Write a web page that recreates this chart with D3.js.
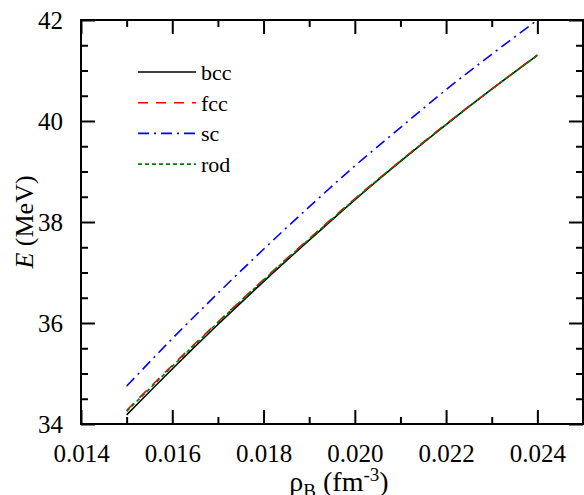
<!DOCTYPE html>
<html>
<head>
<meta charset="utf-8">
<script src="https://cdn.jsdelivr.net/npm/d3@7"></script>
<style>
  html, body { margin: 0; padding: 0; background: #fff; }
  svg { display: block; }
  text { font-family: "Liberation Serif", "Times New Roman", serif; fill: #000; }
</style>
</head>
<body>
<svg id="chart" width="584" height="495"></svg>
<script>
// ---- data ----
const density = [0.015, 0.016, 0.017, 0.018, 0.019, 0.020, 0.021, 0.022, 0.023, 0.024];
const bcc = [34.18, 35.09, 35.97, 36.82, 37.64, 38.44, 39.20, 39.93, 40.63, 41.30];
const fcc = [34.27, 35.16, 36.02, 36.86, 37.67, 38.46, 39.21, 39.94, 40.63, 41.31];
const sc  = [34.75, 35.69, 36.59, 37.46, 38.30, 39.11, 39.87, 40.62, 41.32, 42.00];
const rod = [34.25, 35.14, 36.01, 36.85, 37.66, 38.45, 39.21, 39.93, 40.63, 41.30];
const seriesNames = ["bcc", "fcc", "sc", "rod"];
const xMajorTicks = [0.014, 0.016, 0.018, 0.020, 0.022, 0.024];
const xMinorTicks = [0.015, 0.017, 0.019, 0.021, 0.023, 0.025];
const yMajorTicks = [34, 36, 38, 40, 42];
const yMinorTicks = [34.5, 35, 35.5, 36.5, 37, 37.5, 38.5, 39, 39.5, 40.5, 41, 41.5];

const series = [
  { name: seriesNames[0], values: bcc, color: "#000000", dash: null,        width: 1.6 },
  { name: seriesNames[1], values: fcc, color: "#ff0000", dash: "10,8",      width: 1.6 },
  { name: seriesNames[2], values: sc,  color: "#0000ff", dash: "11,5,2,5",  width: 1.6 },
  { name: seriesNames[3], values: rod, color: "#008000", dash: "4,3",       width: 1.6 }
];

// ---- layout ----
const FONT = '"Liberation Serif", "Times New Roman", serif';
const svg = d3.select("#chart");
const L = 81, R = 583, T = 20, B = 424;
const x = d3.scaleLinear().domain([0.014, 0.025]).range([L, R]);
const y = d3.scaleLinear().domain([34, 42]).range([B, T]);

const fmtX = d3.format(".3f");
const fontSize = 25;

function styleAxis(g) {
  g.attr("font-family", FONT).attr("font-size", fontSize);
  g.select(".domain").remove();
  g.selectAll(".tick line").attr("stroke", "#000").attr("stroke-width", 2);
  g.selectAll(".tick text")
    .style("font-family", FONT)
    .style("font-size", fontSize + "px")
    .attr("fill", "#000");
}

// bottom axis
svg.append("g").attr("transform", `translate(0,${B})`)
  .call(d3.axisBottom(x).tickValues(xMajorTicks).tickFormat(fmtX).tickSize(-14).tickPadding(20))
  .call(styleAxis);
svg.append("g").attr("transform", `translate(0,${B})`)
  .call(d3.axisBottom(x).tickValues(xMinorTicks).tickFormat("").tickSize(-7))
  .call(styleAxis);
// top axis
svg.append("g").attr("transform", `translate(0,${T})`)
  .call(d3.axisTop(x).tickValues(xMajorTicks).tickFormat("").tickSize(-14))
  .call(styleAxis);
svg.append("g").attr("transform", `translate(0,${T})`)
  .call(d3.axisTop(x).tickValues(xMinorTicks).tickFormat("").tickSize(-7))
  .call(styleAxis);
// left axis
svg.append("g").attr("transform", `translate(${L},0)`)
  .call(d3.axisLeft(y).tickValues(yMajorTicks).tickFormat(d3.format("d")).tickSize(-14).tickPadding(18))
  .call(styleAxis);
svg.append("g").attr("transform", `translate(${L},0)`)
  .call(d3.axisLeft(y).tickValues(yMinorTicks).tickFormat("").tickSize(-7))
  .call(styleAxis);
// right axis
svg.append("g").attr("transform", `translate(${R},0)`)
  .call(d3.axisRight(y).tickValues(yMajorTicks).tickFormat("").tickSize(-14))
  .call(styleAxis);
svg.append("g").attr("transform", `translate(${R},0)`)
  .call(d3.axisRight(y).tickValues(yMinorTicks).tickFormat("").tickSize(-7))
  .call(styleAxis);

// frame
svg.append("rect")
  .attr("x", L).attr("y", T).attr("width", R - L).attr("height", B - T)
  .attr("fill", "none").attr("stroke", "#000").attr("stroke-width", 2);

// lines
const line = d3.line()
  .x((d, i) => x(density[i]))
  .y(d => y(d))
  .curve(d3.curveMonotoneX);

svg.append("g").selectAll("path")
  .data(series)
  .join("path")
  .attr("d", s => line(s.values))
  .attr("fill", "none")
  .attr("stroke", s => s.color)
  .attr("stroke-width", s => s.width)
  .attr("stroke-dasharray", s => s.dash);

// legend
const legend = svg.append("g").attr("font-family", FONT);
const legX1 = 138, legX2 = 196, legY0 = 72, legDy = 30.7;
series.forEach((s, i) => {
  const yy = legY0 + i * legDy;
  legend.append("line")
    .attr("x1", legX1).attr("x2", legX2).attr("y1", yy).attr("y2", yy)
    .attr("stroke", s.color).attr("stroke-width", s.width)
    .attr("stroke-dasharray", s.dash);
  legend.append("text")
    .attr("x", legX2 + 5).attr("y", yy + 8)
    .style("font-family", FONT)
    .style("font-size", "22px")
    .text(s.name);
});

// y title
const yt = svg.append("text")
  .attr("transform", `translate(33,${(T + B) / 2}) rotate(-90)`)
  .attr("text-anchor", "middle")
  .style("font-family", FONT)
  .style("font-size", "26px");
yt.append("tspan").style("font-style", "italic").text("E");
yt.append("tspan").text(" (MeV)");

// x title
const xt = svg.append("text")
  .attr("x", 339).attr("y", 491)
  .attr("text-anchor", "middle")
  .style("font-family", FONT)
  .style("font-size", "28px");
xt.append("tspan").text("ρ");
xt.append("tspan").attr("dy", 6).style("font-size", "19px").text("B");
xt.append("tspan").attr("dy", -6).text(" (fm");
xt.append("tspan").attr("dy", -10).style("font-size", "19px").text("-3");
xt.append("tspan").attr("dy", 10).text(")");
</script>
</body>
</html>
